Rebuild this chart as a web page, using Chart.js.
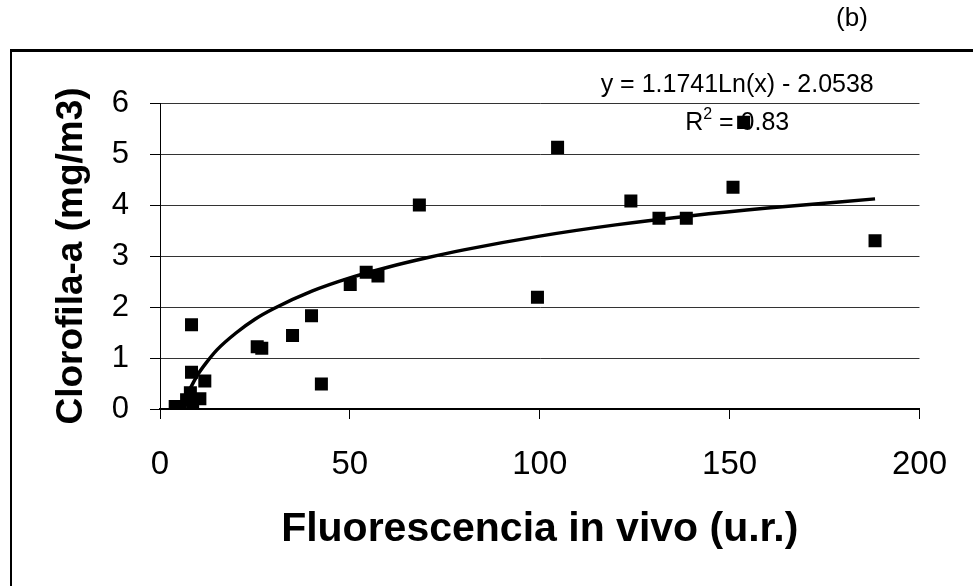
<!DOCTYPE html>
<html>
<head>
<meta charset="utf-8">
<script src="https://cdn.jsdelivr.net/npm/chart.js@4/dist/chart.umd.min.js"></script>
<style>
html,body{margin:0;padding:0;background:#fff;}
#wrap{position:relative;width:973px;height:586px;}
</style>
</head>
<body>
<div id="wrap"><canvas id="c" width="973" height="586"></canvas></div>
<script>
const fluorX = [4.0, 5.3, 7.0, 8.6, 10.5, 8.0, 8.3, 11.8, 8.3, 25.6, 26.8, 34.9, 39.9, 42.5, 50.1, 54.3, 57.4, 68.3, 99.4, 104.7, 124.0, 131.4, 138.6, 150.9, 153.7, 188.3];
const clorofY = [0.05, 0.05, 0.18, 0.08, 0.20, 0.32, 0.72, 0.55, 1.65, 1.22, 1.19, 1.44, 1.83, 0.49, 2.44, 2.68, 2.61, 4.00, 2.19, 5.13, 4.08, 3.74, 3.74, 4.35, 5.62, 3.30];

// Trend line as it appears in the picture (sampled off the drawn curve)
const trendX = [5.6, 6, 7, 8, 10, 12, 15, 20, 25, 30, 40, 50, 60, 70, 80, 100, 120, 140, 160, 188.3];
const trendY = [0.0, 0.07, 0.25, 0.41, 0.68, 0.89, 1.16, 1.49, 1.76, 1.97, 2.31, 2.57, 2.78, 2.96, 3.12, 3.39, 3.61, 3.79, 3.94, 4.12];

// Axis ticks
const xTicks = [0, 50, 100, 150, 200];
const yTicks = [0, 1, 2, 3, 4, 5, 6];

// Labels
const xTitle = 'Fluorescencia in vivo (u.r.)';
const yTitle = 'Clorofila-a (mg/m3)';
const panelLabel = '(b)';
const eqText = 'y = 1.1741Ln(x) - 2.0538';
const r2Value = '0.83';

const FONT = '"Liberation Sans", Arial, Helvetica, sans-serif';

const scatterPts = fluorX.map((x, i) => ({x: x, y: clorofY[i]}));
const trendPts = trendX.map((x, i) => ({x: x, y: trendY[i]}));

const decorPlugin = {
  id: 'decor',
  beforeDraw(chart) {
    const ctx = chart.ctx;
    ctx.save();
    ctx.fillStyle = '#fff';
    ctx.fillRect(0, 0, chart.width, chart.height);
    // outer frame (top + left visible)
    ctx.strokeStyle = '#000';
    ctx.lineWidth = 3;
    ctx.beginPath();
    ctx.moveTo(10, 50.5);
    ctx.lineTo(chart.width, 50.5);
    ctx.stroke();
    ctx.lineWidth = 2;
    ctx.beginPath();
    ctx.moveTo(11, 50);
    ctx.lineTo(11, chart.height);
    ctx.stroke();
    // panel label
    ctx.fillStyle = '#000';
    ctx.font = '26px ' + FONT;
    ctx.textAlign = 'center';
    ctx.textBaseline = 'middle';
    ctx.fillText(panelLabel, 852, 19);
    ctx.restore();
  },
  afterDatasetsDraw(chart) {
    const ctx = chart.ctx;
    const xs = chart.scales.x, ys = chart.scales.y;
    ctx.save();
    ctx.fillStyle = '#000';
    ctx.font = '25px ' + FONT;
    ctx.textAlign = 'center';
    ctx.textBaseline = 'middle';
    const cx = xs.getPixelForValue(152);
    ctx.fillText(eqText, cx, ys.getPixelForValue(6.35));
    // R^2 line
    const ry = ys.getPixelForValue(5.61);
    const big = '25px ' + FONT, small = '16px ' + FONT;
    ctx.font = big; const wR = ctx.measureText('R').width;
    ctx.font = small; const w2 = ctx.measureText('2').width;
    ctx.font = big; const wRest = ctx.measureText(' = ' + r2Value).width;
    let x0 = cx - (wR + w2 + wRest) / 2;
    ctx.textAlign = 'left';
    ctx.font = big; ctx.fillText('R', x0, ry);
    ctx.font = small; ctx.fillText('2', x0 + wR, ry - 8);
    ctx.font = big; ctx.fillText(' = ' + r2Value, x0 + wR + w2, ry);
    ctx.restore();
  }
};

new Chart(document.getElementById('c'), {
  type: 'scatter',
  data: {
    datasets: [
      {
        label: 'datos',
        data: scatterPts,
        pointStyle: 'rect',
        pointRadius: 9.2,
        pointHoverRadius: 9.2,
        backgroundColor: '#000',
        borderColor: '#000',
        borderWidth: 0,
        order: 2
      },
      {
        label: 'tendencia',
        type: 'line',
        data: trendPts,
        showLine: true,
        borderColor: '#000',
        borderWidth: 3.5,
        pointRadius: 0,
        tension: 0.3,
        cubicInterpolationMode: 'monotone',
        fill: false,
        order: 1
      }
    ]
  },
  options: {
    responsive: false,
    animation: false,
    devicePixelRatio: 1,
    events: [],
    layout: {padding: {left: 10, right: 52, top: 103, bottom: 0}},
    plugins: {legend: {display: false}, tooltip: {enabled: false}},
    scales: {
      x: {
        type: 'linear',
        min: 0, max: 200,
        afterBuildTicks: s => { s.ticks = xTicks.map(v => ({value: v})); },
        afterFit: s => { s.height = 177; },
        border: {display: true, color: '#000', width: 2},
        grid: {drawOnChartArea: false, drawTicks: true, tickLength: 10, color: '#000', lineWidth: 1},
        ticks: {color: '#000', font: {family: FONT, size: 33}, padding: 26, maxRotation: 0},
        title: {display: true, text: xTitle, color: '#000', font: {family: FONT, size: 41, weight: 'bold'}, padding: {top: 0, bottom: 32}}
      },
      y: {
        type: 'linear',
        min: 0, max: 6,
        afterBuildTicks: s => { s.ticks = yTicks.map(v => ({value: v})); },
        afterFit: s => { s.width = 150; },
        border: {display: true, color: '#000', width: 1},
        grid: {drawOnChartArea: true, drawTicks: true, tickLength: 10, color: '#333', lineWidth: 1, borderDash: [3, 4], tickColor: '#000', tickBorderDash: []},
        ticks: {color: '#000', font: {family: FONT, size: 31}, padding: 21},
        title: {display: true, text: yTitle, color: '#000', font: {family: FONT, size: 37, weight: 'bold'}, padding: {top: 40, bottom: 0}}
      }
    }
  },
  plugins: [decorPlugin]
});
</script>
</body>
</html>
